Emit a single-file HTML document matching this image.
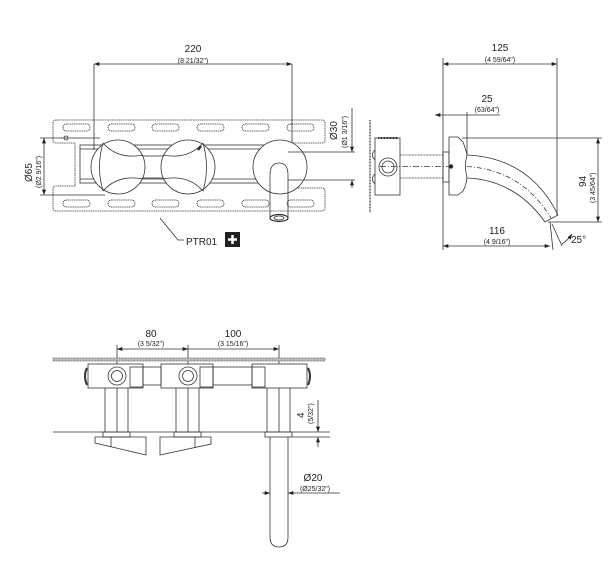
<!DOCTYPE html>
<html><head><meta charset="utf-8"><style>
html,body{margin:0;padding:0;background:#fff;}
svg{display:block;}
text{font-family:"Liberation Sans",sans-serif;fill:#222;}
.big{font-size:10px;}
.sm{font-size:7px;}
</style></head><body>
<svg width="616" height="573" viewBox="0 0 616 573" xmlns="http://www.w3.org/2000/svg">
<defs>
<marker id="a" viewBox="0 0 8 6" refX="8" refY="3" markerWidth="7" markerHeight="5" orient="auto-start-reverse"><path d="M0,0L8,3L0,6z" fill="#222"/></marker>
</defs>
<g fill="none" stroke="#333" stroke-width="0.8">
<!-- TOP LEFT VIEW -->
<line x1="94" y1="64" x2="292" y2="64" marker-start="url(#a)" marker-end="url(#a)"/>
<line x1="94" y1="64" x2="94" y2="150"/>
<line x1="292" y1="64" x2="292" y2="160"/>
<!-- plate -->
<path d="M56,120 H322 Q325,120 325,123 V140 Q325,143 322,143 H290 M56,120 Q53,120 53,123 V140 Q53,143 56,143 H75 V186 H56 Q53,186 53,189 V208 Q53,211 56,211 H322 Q325,211 325,208 V191 Q325,188 322,188 H290" stroke-dasharray="1.2 0.6"/>
<g stroke-dasharray="1.2 0.6">
<rect x="63" y="124" width="27" height="7" rx="3.5"/><rect x="108" y="124" width="27" height="7" rx="3.5"/><rect x="152" y="124" width="27" height="7" rx="3.5"/><rect x="197" y="124" width="27" height="7" rx="3.5"/><rect x="242" y="124" width="27" height="7" rx="3.5"/><rect x="287" y="124" width="27" height="7" rx="3.5"/>
<rect x="63" y="200" width="27" height="7" rx="3.5"/><rect x="108" y="200" width="27" height="7" rx="3.5"/><rect x="152" y="200" width="27" height="7" rx="3.5"/><rect x="197" y="200" width="27" height="7" rx="3.5"/><rect x="242" y="200" width="27" height="7" rx="3.5"/><rect x="287" y="200" width="27" height="7" rx="3.5"/>
</g>
<circle cx="66" cy="138" r="2"/>
<rect x="80" y="145" width="190" height="38"/>
<line x1="80" y1="149" x2="270" y2="149"/><line x1="80" y1="179" x2="270" y2="179"/>
<rect x="143" y="156" width="22" height="22"/>
<!-- handles -->
<circle cx="118" cy="167" r="27" fill="#fff"/>
<path d="M103,143 Q118,160 143,155 M103,191 Q118,174 143,179 M103,143 Q96,167 103,191"/>
<circle cx="188" cy="167" r="27" fill="#fff"/>
<path d="M163,155 Q188,160 203,143 M163,179 Q188,174 203,191 M203,143 Q210,167 203,191"/>
<line x1="198" y1="150" x2="201" y2="146" stroke-width="2.5"/>
<!-- spout escutcheon -->
<circle cx="280" cy="167" r="27" fill="#fff"/>
<path d="M270,175 V218 M288,175 V218"/>
<path d="M270,175 Q270,163 279,163 Q288,163 288,175"/>
<ellipse cx="279" cy="218" rx="9" ry="3.5" stroke-width="1.2"/>
<ellipse cx="279" cy="218" rx="5" ry="2"/>
<!-- Ø30 -->
<line x1="288" y1="152" x2="355" y2="152"/><line x1="288" y1="180" x2="355" y2="180"/>
<line x1="352" y1="108" x2="352" y2="152" marker-end="url(#a)"/>
<line x1="352" y1="185" x2="352" y2="180" marker-end="url(#a)"/>
<line x1="352" y1="180" x2="352" y2="188"/>
<!-- Ø65 -->
<line x1="40" y1="138" x2="100" y2="138"/><line x1="40" y1="195" x2="105" y2="195"/>
<line x1="44" y1="138" x2="44" y2="195" marker-start="url(#a)" marker-end="url(#a)"/>
<!-- PTR01 leader -->
<polyline points="160,218 178,240 184,240"/>
<!-- RIGHT VIEW -->
<line x1="443" y1="64" x2="557" y2="64" marker-start="url(#a)" marker-end="url(#a)"/>
<line x1="443" y1="58" x2="443" y2="250"/>
<line x1="557" y1="58" x2="557" y2="215"/>
<line x1="435" y1="115" x2="467" y2="115" marker-start="url(#a)"/>
<line x1="467" y1="115" x2="500" y2="115"/>
<line x1="467" y1="112" x2="467" y2="155"/>
<line x1="462" y1="138" x2="602" y2="138"/><line x1="548" y1="222" x2="602" y2="222"/>
<line x1="598" y1="138" x2="598" y2="222" marker-start="url(#a)" marker-end="url(#a)"/>
<line x1="443" y1="246" x2="550" y2="246" marker-start="url(#a)" marker-end="url(#a)"/>
<line x1="550" y1="222" x2="553" y2="250"/>
<line x1="552" y1="224" x2="562" y2="246"/>
<path d="M562,244 Q568,240 572,234" marker-end="url(#a)"/>
<!-- wall and body -->
<line x1="370" y1="120" x2="370" y2="213" stroke-dasharray="1 0.5" stroke-width="1.2"/>
<rect x="375" y="138" width="25" height="57"/>
<path d="M375,150 Q370,155 375,160 M375,174 Q370,179 375,184"/>
<line x1="378" y1="138" x2="398" y2="138" stroke-width="2" stroke-dasharray="1 0.5"/>
<circle cx="388" cy="167" r="9"/><circle cx="388" cy="167" r="6"/>
<line x1="400" y1="155" x2="443" y2="155" stroke-dasharray="1 0.5"/>
<line x1="400" y1="178" x2="443" y2="178" stroke-dasharray="1 0.5"/>
<line x1="380" y1="166.5" x2="462" y2="166.5" stroke-dasharray="6 2 1 2"/>
<rect x="443" y="152" width="6" height="30"/>
<path d="M449,137 H458 L463,142 Q466,150 467,155 Q464,166 467,178 Q466,186 463,191 L458,195 H449 Z" fill="#fff"/>
<circle cx="451" cy="166.5" r="1.8" fill="#222"/>
<path d="M467,155 Q530,158 558,215 L545,222 Q515,180 467,178"/>
<path d="M467,166.5 Q522,170 551,218" stroke-dasharray="5 2 1 2"/>
<!-- BOTTOM VIEW -->
<line x1="117" y1="349" x2="188" y2="349" marker-start="url(#a)" marker-end="url(#a)"/>
<line x1="188" y1="349" x2="279" y2="349" marker-end="url(#a)"/>
<line x1="117" y1="345" x2="117" y2="432"/><line x1="188" y1="345" x2="188" y2="432"/><line x1="279" y1="345" x2="279" y2="432"/>
<rect x="53" y="358" width="272" height="3" fill="#bbb" stroke="#666" stroke-dasharray="1 0.5"/>
<rect x="88" y="364" width="55" height="24" fill="#fff"/>
<rect x="161" y="364" width="52" height="24" fill="#fff"/>
<rect x="252" y="364" width="55" height="24" fill="#fff"/>
<rect x="143" y="367" width="18" height="18"/><rect x="213" y="367" width="39" height="18"/>
<rect x="130" y="367" width="13" height="20"/><rect x="200" y="367" width="13" height="20"/><rect x="252" y="367" width="13" height="20"/>
<circle cx="117" cy="376" r="9"/><circle cx="117" cy="376" r="5.5"/>
<circle cx="188" cy="376" r="9"/><circle cx="188" cy="376" r="5.5"/>
<path d="M87,368 Q83,376 87,385 M308,368 Q312,376 308,385" stroke-width="2"/>
<line x1="105" y1="388" x2="105" y2="432"/><line x1="128" y1="388" x2="128" y2="432"/>
<line x1="176" y1="388" x2="176" y2="432"/><line x1="199" y1="388" x2="199" y2="432"/>
<line x1="267" y1="388" x2="267" y2="432"/><line x1="290" y1="388" x2="290" y2="432"/>
<line x1="53" y1="432" x2="330" y2="432"/>
<rect x="103" y="432" width="27" height="5"/><rect x="174" y="432" width="27" height="5"/><rect x="265" y="432" width="27" height="5"/>
<polygon points="95,437 146,437 146,455 95,443"/><line x1="111" y1="437" x2="111" y2="447"/>
<polygon points="160,437 211,437 211,444 160,455"/><line x1="195" y1="437" x2="195" y2="448"/>
<path d="M270,437 V537 Q270,547 279,547 Q288,547 288,537 V437"/>
<line x1="318" y1="400" x2="318" y2="432" marker-end="url(#a)"/>
<line x1="318" y1="447" x2="318" y2="437" marker-end="url(#a)"/>
<line x1="292" y1="437" x2="330" y2="437"/>
<line x1="262" y1="493" x2="270" y2="493" marker-end="url(#a)"/>
<line x1="340" y1="493" x2="288" y2="493" marker-end="url(#a)"/>
</g>
<!-- TEXT -->
<text class="big" x="193" y="52" text-anchor="middle">220</text>
<text class="sm" x="193" y="63" text-anchor="middle">(8 21/32")</text>
<text class="big" transform="translate(337,140) rotate(-90)">Ø30</text>
<text class="sm" transform="translate(347,148) rotate(-90)">(Ø1 3/16")</text>
<text class="big" transform="translate(32,182) rotate(-90)">Ø65</text>
<text class="sm" transform="translate(41,188) rotate(-90)">(Ø2 9/16")</text>
<text class="big" x="186" y="245">PTR01</text>
<rect x="225" y="232" width="15" height="15" fill="#222"/>
<path d="M232.5,235v9M228,239.5h9" stroke="#fff" stroke-width="2.5"/>
<text class="big" x="500" y="51" text-anchor="middle">125</text>
<text class="sm" x="500" y="62" text-anchor="middle">(4 59/64")</text>
<text class="big" x="487" y="102" text-anchor="middle">25</text>
<text class="sm" x="487" y="112" text-anchor="middle">(63/64")</text>
<text class="big" transform="translate(586,187) rotate(-90)">94</text>
<text class="sm" transform="translate(595,203) rotate(-90)">(3 45/64")</text>
<text class="big" x="497" y="234" text-anchor="middle">116</text>
<text class="sm" x="497" y="244" text-anchor="middle">(4 9/16")</text>
<text class="big" x="571" y="243">25°</text>
<text class="big" x="151" y="337" text-anchor="middle">80</text>
<text class="sm" x="151" y="346" text-anchor="middle">(3 5/32")</text>
<text class="big" x="233" y="337" text-anchor="middle">100</text>
<text class="sm" x="233" y="346" text-anchor="middle">(3 15/16")</text>
<text class="big" transform="translate(304,418) rotate(-90)">4</text>
<text class="sm" transform="translate(313,424) rotate(-90)">(5/32")</text>
<text class="big" x="313" y="481" text-anchor="middle">Ø20</text>
<text class="sm" x="315" y="491" text-anchor="middle">(Ø25/32")</text>
</svg>
</body></html>
